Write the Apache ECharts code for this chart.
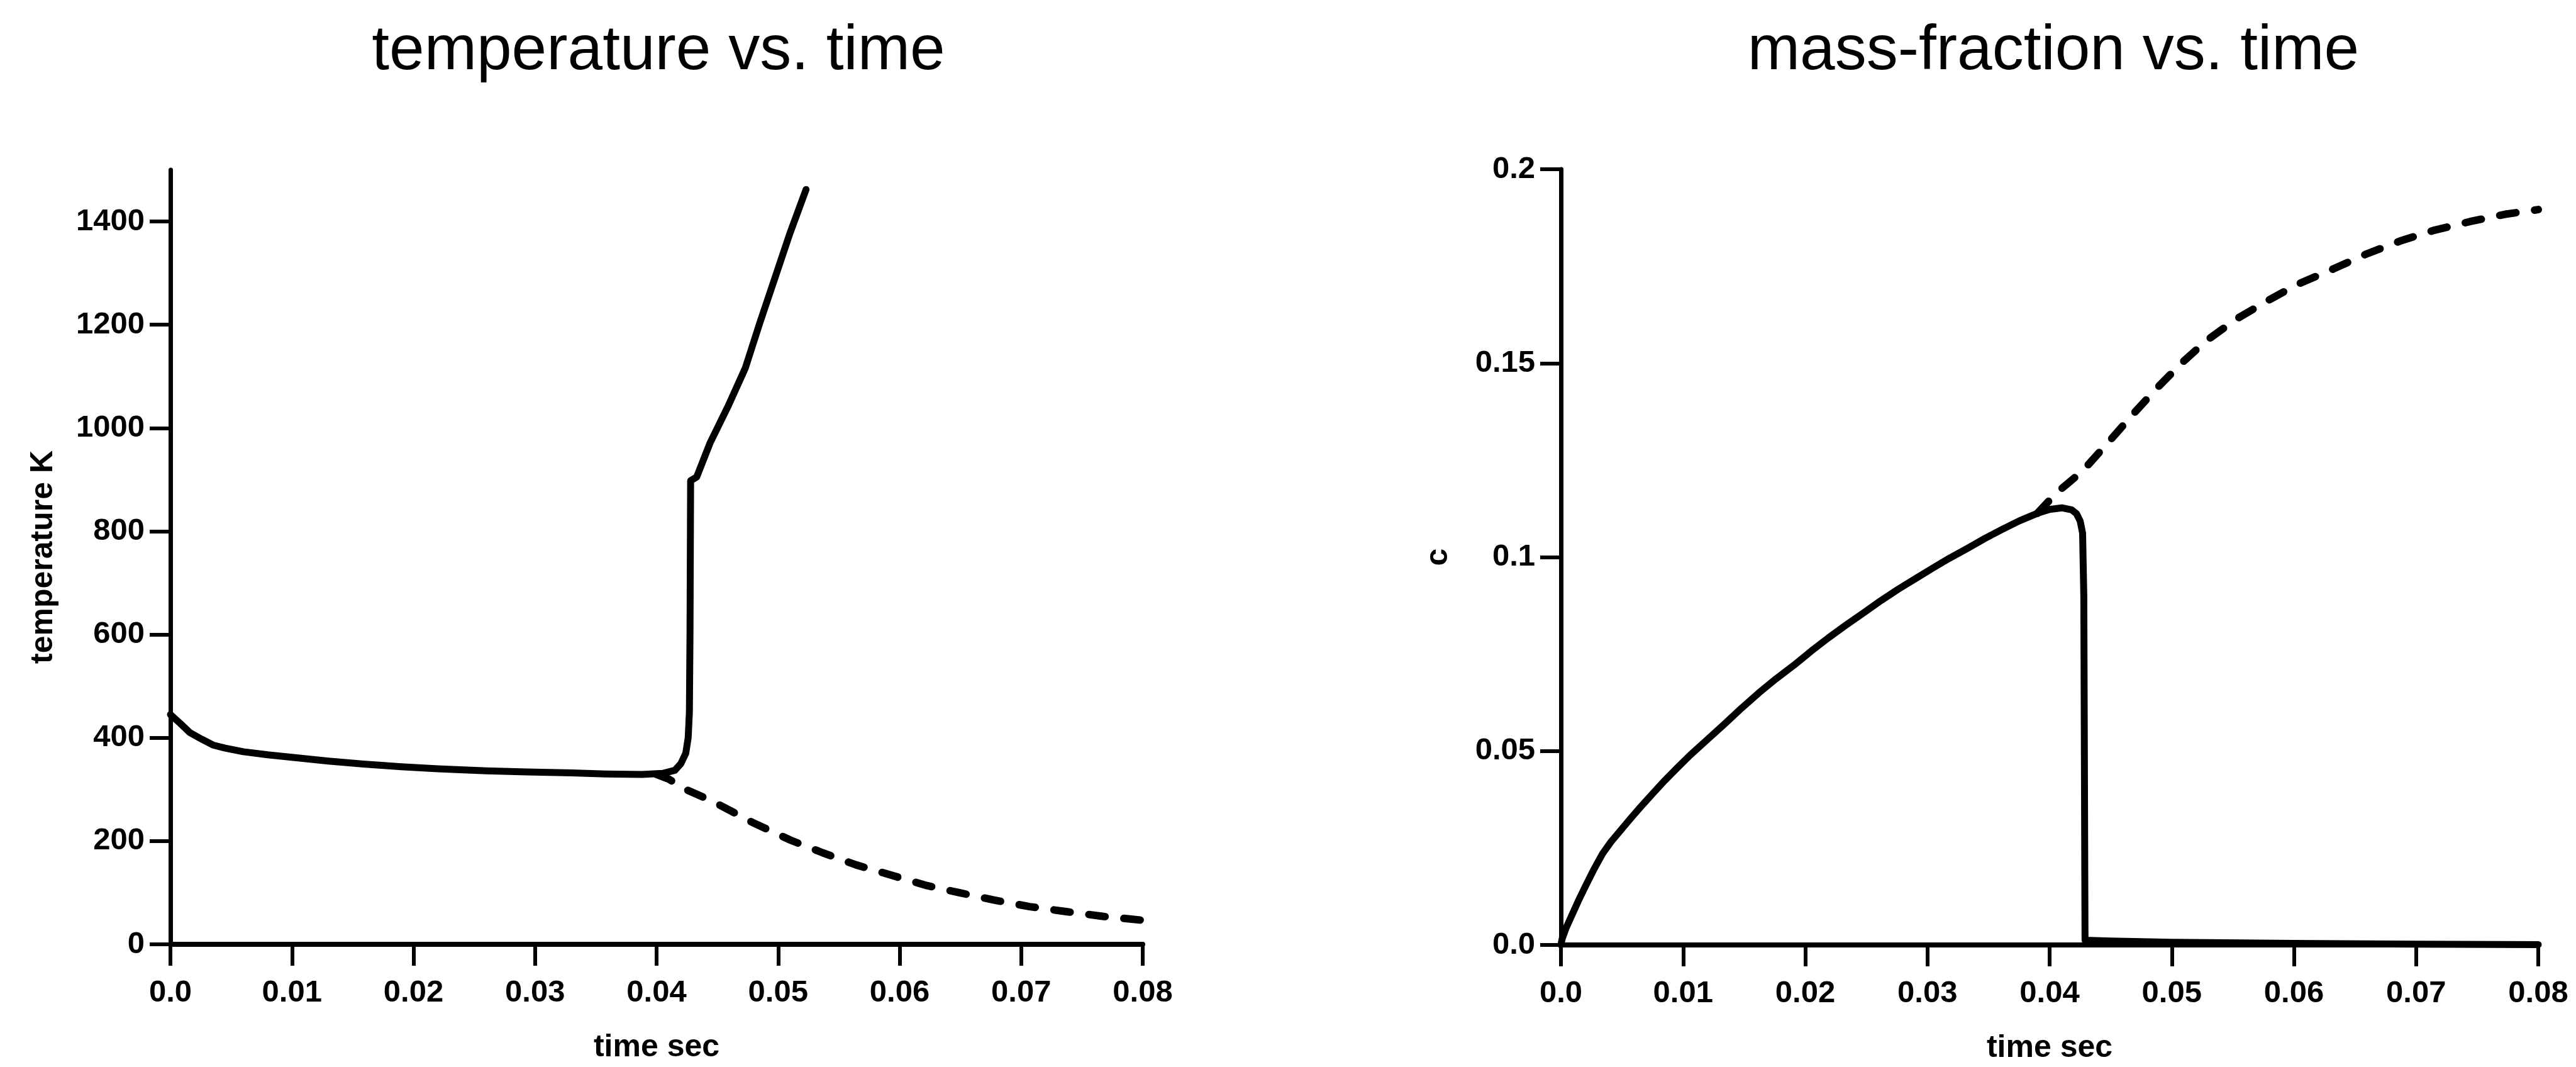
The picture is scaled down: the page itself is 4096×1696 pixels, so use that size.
<!DOCTYPE html>
<html>
<head>
<meta charset="utf-8">
<script src="https://cdn.jsdelivr.net/npm/echarts@6/dist/echarts.min.js"></script>
<style>
  html, body { margin: 0; padding: 0; background: #ffffff; }
  #chart { width: 4096px; height: 1696px; }
</style>
</head>
<body>
<div id="chart"></div>
<script>
// Time axis (seconds), shared by both panels
const timeTicks = [0, 0.01, 0.02, 0.03, 0.04, 0.05, 0.06, 0.07, 0.08];
const timeTickLabels = ['0.0', '0.01', '0.02', '0.03', '0.04', '0.05', '0.06', '0.07', '0.08'];

// Temperature axis (K)
const tempTicks = [0, 200, 400, 600, 800, 1000, 1200, 1400];
const tempTickLabels = ['0', '200', '400', '600', '800', '1000', '1200', '1400'];

// Mass-fraction axis
const massTicks = [0, 0.05, 0.1, 0.15, 0.2];
const massTickLabels = ['0.0', '0.05', '0.1', '0.15', '0.2'];

// Temperature, igniting case (solid)
const tempIgnTime = [0, 0.0008, 0.0016, 0.0026, 0.0035, 0.0045, 0.006, 0.008, 0.0105, 0.013,
  0.0159, 0.019, 0.022, 0.026, 0.0293, 0.033, 0.0358, 0.0388, 0.0405, 0.0415,
  0.042, 0.0424, 0.0426, 0.0427, 0.04275, 0.0428, 0.0433, 0.0444, 0.0459, 0.0473,
  0.0485, 0.0499, 0.051, 0.0523];
const tempIgnK = [445, 428, 410, 397, 386, 380, 373, 367, 361, 355,
  349, 344, 340, 336, 334, 332, 330, 329, 331, 337,
  350, 370, 400, 450, 600, 898, 905, 971, 1043, 1116,
  1204, 1302, 1379, 1462];

// Temperature, non-igniting case (dashed)
const tempQuenchTime = [0.04, 0.041, 0.0424, 0.0447, 0.0479, 0.051, 0.0537, 0.0564, 0.0593, 0.0622,
  0.0649, 0.0677, 0.0707, 0.0738, 0.0768, 0.0798];
const tempQuenchK = [329, 320, 300, 276, 236, 202, 177, 154, 134, 114,
  100, 86, 73, 63, 54, 47];

// Mass fraction c, igniting case (solid)
const massIgnTime = [0, 0.0001, 0.0004, 0.0008, 0.0014, 0.002, 0.0027, 0.0034, 0.0041, 0.0049,
  0.0057, 0.0065, 0.0075, 0.0085, 0.0095, 0.0106, 0.012, 0.0134, 0.0148, 0.0162,
  0.0176, 0.0191, 0.0205, 0.0219, 0.0233, 0.0248, 0.0262, 0.0276, 0.029, 0.0304,
  0.0318, 0.0333, 0.0347, 0.0361, 0.0375, 0.039, 0.04, 0.041, 0.0418, 0.0422,
  0.0425, 0.0427, 0.0428, 0.0429, 0.045, 0.05, 0.06, 0.07, 0.08];
const massIgnC = [0, 0.0016, 0.0042, 0.007, 0.0112, 0.0151, 0.0195, 0.0235, 0.0266, 0.0296,
  0.0326, 0.0355, 0.039, 0.0424, 0.0456, 0.049, 0.053, 0.057, 0.0611, 0.065,
  0.0686, 0.0722, 0.0758, 0.0792, 0.0824, 0.0857, 0.0888, 0.0917, 0.0944, 0.0971,
  0.0997, 0.1023, 0.1048, 0.1071, 0.1093, 0.1113, 0.1123, 0.1127, 0.1122, 0.1112,
  0.1093, 0.1062, 0.09, 0.0012, 0.001, 0.0007, 0.0004, 0.0002, 0.0001];

// Mass fraction c, non-igniting case (dashed)
const massQuenchTime = [0.039, 0.0401, 0.041, 0.0427, 0.0447, 0.0467, 0.0487, 0.0508, 0.0528, 0.0553,
  0.0579, 0.0602, 0.0633, 0.0659, 0.0687, 0.0714, 0.0744, 0.0773, 0.08];
const massQuenchC = [0.1113, 0.115, 0.1177, 0.1222, 0.1292, 0.1364, 0.1433, 0.150, 0.1557, 0.1614,
  0.1662, 0.1702, 0.1744, 0.1781, 0.1815, 0.1842, 0.1865, 0.1884, 0.1896];

const zip = (xs, ys) => xs.map((x, i) => [x, ys[i]]);
const labelFor = (ticks, labels) => (v) => {
  const i = ticks.findIndex(t => Math.abs(t - v) < 1e-9);
  return i >= 0 ? labels[i] : '';
};

const FONT = '"Liberation Sans", Arial, Helvetica, sans-serif';
const INK = '#000000';

function timeAxis(gridIndex) {
  return {
    type: 'value', gridIndex, min: 0, max: 0.08,
    name: 'time sec', nameLocation: 'middle', nameGap: 139,
    nameTextStyle: { fontFamily: FONT, fontSize: 50, fontWeight: 'bold', color: INK },
    axisLine: { show: true, onZero: false, lineStyle: { color: INK, width: 8 } },
    axisTick: { show: true, inside: false, length: 34, customValues: timeTicks, lineStyle: { color: INK, width: 6 } },
    axisLabel: { show: true, margin: 53, customValues: timeTicks, formatter: labelFor(timeTicks, timeTickLabels),
      fontFamily: FONT, fontSize: 49, fontWeight: 'bold', color: INK },
    splitLine: { show: false }
  };
}

function valueAxis(gridIndex, name, max, ticks, labels, gap) {
  return {
    type: 'value', gridIndex, min: 0, max,
    name, nameLocation: 'middle', nameGap: gap, nameRotate: 90,
    nameTextStyle: { fontFamily: FONT, fontSize: 50, fontWeight: 'bold', color: INK },
    axisLine: { show: true, onZero: false, lineStyle: { color: INK, width: 7 } },
    axisTick: { show: true, inside: false, length: 33, customValues: ticks, lineStyle: { color: INK, width: 6 } },
    axisLabel: { show: true, margin: 41, customValues: ticks, formatter: labelFor(ticks, labels),
      fontFamily: FONT, fontSize: 49, fontWeight: 'bold', color: INK },
    splitLine: { show: false }
  };
}

function curve(xi, data, dashed) {
  return {
    type: 'line', xAxisIndex: xi, yAxisIndex: xi, data,
    showSymbol: false, symbol: 'none', smooth: false, clip: false,
    z: dashed ? 2 : 3,
    lineStyle: dashed
      ? { color: INK, width: 12, type: [26, 30], cap: 'round', join: 'round' }
      : { color: INK, width: 11, type: 'solid', cap: 'round', join: 'round' },
    emphasis: { disabled: true }
  };
}

const chart = echarts.init(document.getElementById('chart'), null, { renderer: 'canvas', width: 4096, height: 1696 });

chart.setOption({
  animation: false,
  backgroundColor: '#ffffff',
  title: [
    { text: 'temperature vs. time', left: 1047, top: 32, textAlign: 'center', padding: 0,
      textStyle: { fontFamily: FONT, fontSize: 100, fontWeight: 'normal', color: INK } },
    { text: 'mass-fraction vs. time', left: 3265, top: 32, textAlign: 'center', padding: 0,
      textStyle: { fontFamily: FONT, fontSize: 100, fontWeight: 'normal', color: INK } }
  ],
  grid: [
    { left: 271, top: 270, width: 1546, height: 1231, containLabel: false, outerBoundsMode: 'none' },
    { left: 2482, top: 269, width: 1554, height: 1233, containLabel: false, outerBoundsMode: 'none' }
  ],
  xAxis: [timeAxis(0), timeAxis(1)],
  yAxis: [
    valueAxis(0, 'temperature K', 1500, tempTicks, tempTickLabels, 177),
    valueAxis(1, 'c', 0.2, massTicks, massTickLabels, 170)
  ],
  series: [
    curve(0, zip(tempQuenchTime, tempQuenchK), true),
    curve(0, zip(tempIgnTime, tempIgnK), false),
    curve(1, zip(massQuenchTime, massQuenchC), true),
    curve(1, zip(massIgnTime, massIgnC), false)
  ]
});
</script>
</body>
</html>
